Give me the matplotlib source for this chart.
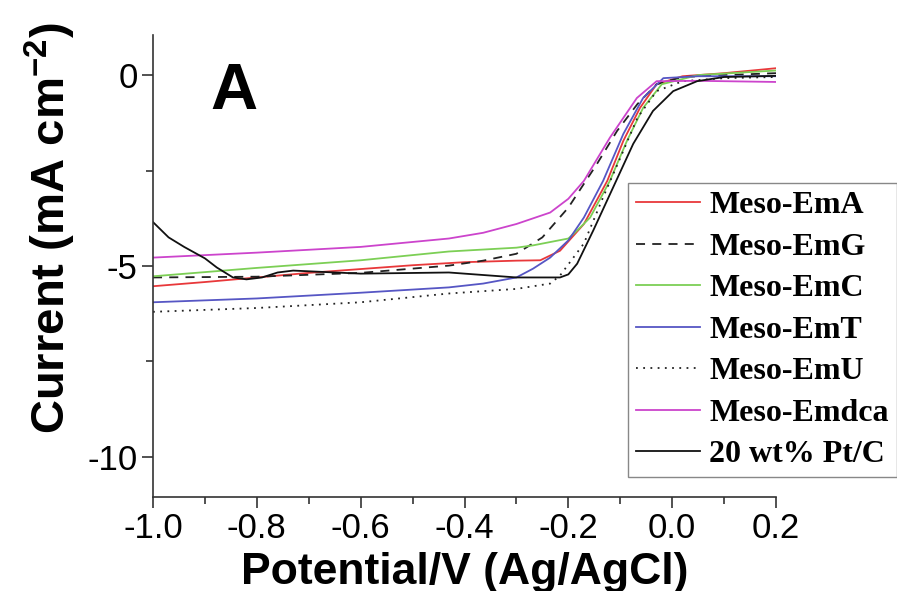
import numpy as np
import matplotlib
matplotlib.use("Agg")
import matplotlib.pyplot as plt
from matplotlib.ticker import MultipleLocator

plt.rcParams["mathtext.fontset"] = "custom"
plt.rcParams["mathtext.bf"] = "Liberation Sans:bold"
plt.rcParams["mathtext.rm"] = "Liberation Sans:bold"
plt.rcParams["mathtext.default"] = "bf"

# --- Data (potential in V vs Ag/AgCl, current in mA cm^-2) ---
emA_x = [-1.0, -0.9, -0.8, -0.7, -0.6, -0.5, -0.4, -0.3, -0.254, -0.216, -0.17, -0.125, -0.094, -0.062, -0.03, 0.02, 0.1, 0.2]
emA_y = [-5.53, -5.42, -5.3, -5.18, -5.08, -4.98, -4.9, -4.86, -4.85, -4.6, -3.9, -2.77, -1.72, -0.86, -0.24, -0.03, 0.05, 0.18]

emG_x = [-1.0, -0.8, -0.6, -0.43, -0.364, -0.3, -0.25, -0.2, -0.145, -0.106, -0.067, -0.03, 0.02, 0.1, 0.2]
emG_y = [-5.3, -5.28, -5.18, -4.99, -4.86, -4.68, -4.25, -3.47, -2.33, -1.46, -0.76, -0.24, -0.05, 0.0, 0.05]

emC_x = [-1.0, -0.8, -0.6, -0.43, -0.3, -0.268, -0.2, -0.183, -0.158, -0.12, -0.087, -0.056, -0.02, 0.05, 0.2]
emC_y = [-5.27, -5.05, -4.85, -4.62, -4.52, -4.46, -4.28, -4.07, -3.73, -2.77, -1.72, -0.86, -0.24, 0.0, 0.12]

emT_x = [-1.0, -0.8, -0.6, -0.43, -0.364, -0.3, -0.268, -0.235, -0.2, -0.17, -0.133, -0.094, -0.056, -0.017, 0.05, 0.2]
emT_y = [-5.95, -5.85, -5.7, -5.56, -5.46, -5.3, -5.07, -4.78, -4.33, -3.73, -2.77, -1.54, -0.6, -0.08, -0.03, -0.03]

emU_x = [-1.0, -0.8, -0.6, -0.43, -0.3, -0.235, -0.216, -0.17, -0.133, -0.1, -0.067, -0.03, 0.02, 0.1, 0.2]
emU_y = [-6.2, -6.1, -5.95, -5.72, -5.6, -5.46, -5.25, -4.41, -3.2, -2.17, -1.12, -0.42, -0.16, -0.08, -0.05]

emdca_x = [-1.0, -0.8, -0.6, -0.43, -0.364, -0.3, -0.235, -0.2, -0.17, -0.12, -0.068, -0.03, 0.05, 0.2]
emdca_y = [-4.78, -4.65, -4.5, -4.28, -4.13, -3.9, -3.6, -3.24, -2.77, -1.64, -0.6, -0.16, -0.15, -0.18]

ptc_x = [-1.0, -0.97, -0.94, -0.9, -0.877, -0.846, -0.82, -0.79, -0.76, -0.73, -0.6, -0.43, -0.3,
         -0.216, -0.2, -0.183, -0.152, -0.114, -0.075, -0.037, 0.002, 0.048, 0.1, 0.2]
ptc_y = [-3.85, -4.25, -4.5, -4.8, -5.04, -5.3, -5.35, -5.3, -5.17, -5.12, -5.2, -5.17, -5.3,
         -5.3, -5.22, -4.94, -4.07, -2.95, -1.8, -0.94, -0.42, -0.16, -0.05, -0.02]

labels = ["Meso-EmA", "Meso-EmG", "Meso-EmC", "Meso-EmT", "Meso-EmU", "Meso-Emdca", "20 wt% Pt/C"]
series = [(emA_x, emA_y), (emG_x, emG_y), (emC_x, emC_y), (emT_x, emT_y),
          (emU_x, emU_y), (emdca_x, emdca_y), (ptc_x, ptc_y)]
colors = ["#e8383a", "#222222", "#7ccf55", "#5656c4", "#222222", "#cc44cc", "#111111"]
styles = ["-", (0, (5, 4)), "-", "-", (0, (1, 3)), "-", "-"]

# --- Plotting ---
fig = plt.figure(figsize=(8.97, 5.91), dpi=100)
ax = fig.add_axes([153 / 897, 1 - 497 / 591, (776 - 153) / 897, (497 - 35) / 591])

for (x, y), lab, c, ls in zip(series, labels, colors, styles):
    ax.plot(x, y, color=c, linestyle=ls, linewidth=1.3, label=lab)

ax.set_xlim(-1.0, 0.2)
ax.set_ylim(-11.05, 1.05)
ax.xaxis.set_minor_locator(MultipleLocator(0.1))
ax.yaxis.set_minor_locator(MultipleLocator(2.5))
ax.set_xticks([-1.0, -0.8, -0.6, -0.4, -0.2, 0.0, 0.2])
ax.set_xticklabels(["-1.0", "-0.8", "-0.6", "-0.4", "-0.2", "0.0", "0.2"])
ax.set_yticks([0, -5, -10])
ax.set_yticklabels(["0", "-5", "-10"])

for side in ["top", "right"]:
    ax.spines[side].set_visible(False)
for side in ["left", "bottom"]:
    ax.spines[side].set_color("#333333")
    ax.spines[side].set_linewidth(1.2)

ax.tick_params(which="major", direction="out", length=8, width=1.2, color="#333333",
               labelsize=25, pad=3)
ax.tick_params(which="minor", direction="out", length=5, width=1.2, color="#333333")
for t in ax.get_xticklabels() + ax.get_yticklabels():
    t.set_fontfamily("Liberation Sans")

ax.set_xlabel("Potential/V (Ag/AgCl)", fontsize=32, fontweight="bold",
              fontfamily="Liberation Sans")
ax.xaxis.set_label_coords(0.5, -0.118, transform=ax.transAxes)
ax.xaxis.label.set_verticalalignment("top")
ax.set_ylabel("Current (mA cm$^{-2}$)", fontsize=34, fontweight="bold",
              fontfamily="Liberation Sans")
ax.yaxis.set_label_coords(-0.12, 0.582)

fig.text(210 / 897, 1 - 109 / 591, "A", fontsize=47, fontweight="bold",
         fontfamily="Liberation Sans", ha="left", va="baseline")

leg = ax.legend(loc="upper left", bbox_to_anchor=(628 / 897, 1 - 183 / 591),
                bbox_transform=fig.transFigure, borderaxespad=0, frameon=True,
                fancybox=False, edgecolor="#888888", framealpha=1,
                prop={"family": "Liberation Serif", "weight": "bold", "size": 23},
                handlelength=2.0, handletextpad=0.3, labelspacing=0.38, borderpad=0.25)
leg.get_frame().set_linewidth(1.0)

fig.savefig("out.png", dpi=100)
